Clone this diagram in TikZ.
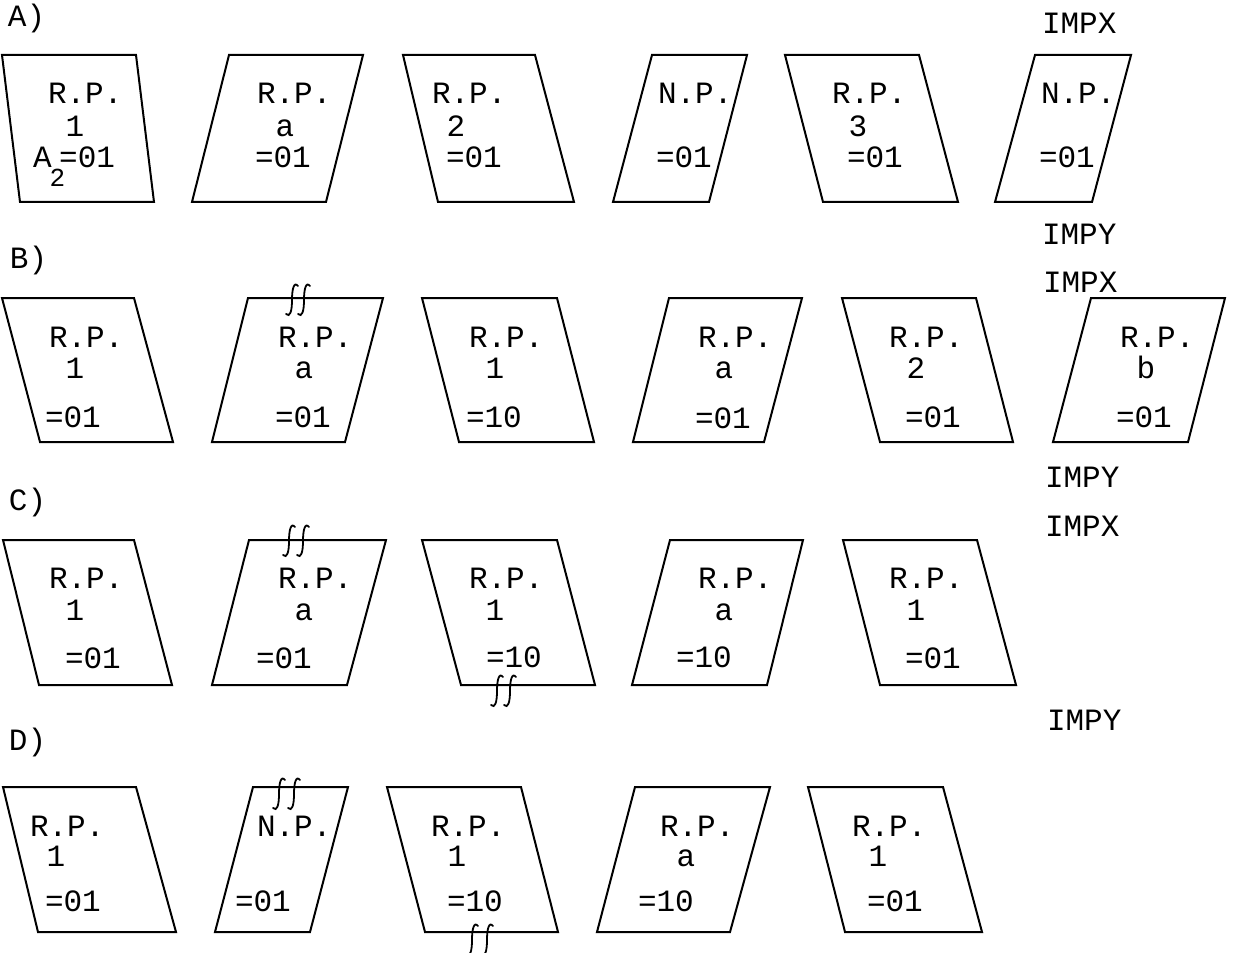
\documentclass[tikz,border=0pt]{standalone}
\usepackage{fontspec}
\setmonofont{Liberation Mono}
\usetikzlibrary{positioning}

\begin{document}
\begin{tikzpicture}[
  x=0.5pt,y=-0.5pt,
  card/.style={draw=black,line width=1pt,line join=miter},
  txt/.style={font=\ttfamily\fontsize{15.5}{18}\selectfont,anchor=base west,inner sep=0pt,outer sep=0pt},
  chr/.style={txt,anchor=base},
  squig/.style={line width=0.9pt,line cap=round},
  cut/.pic={\draw[squig] (6,-14) .. controls (2,-19) and (0,-11) .. (0,0) .. controls (0,11) and (-2,18) .. (-6,14);}
]
\useasboundingbox (0,0) rectangle (1235,952);

% cards, one row at a time: top-left/top-right/bottom-left/bottom-right
\foreach \tl/\tr/\bl/\br in {2/136/20/154,229/363/192/326,403/535/438/574,652/747/613/709,785/919/823/958,1035/1131/995/1092}
  \draw[card] (\tl,55) -- (\tr,55) -- (\br,202) -- (\bl,202) -- cycle;
\foreach \tl/\tr/\bl/\br in {2/134/40/173,248/383/212/345,422/557/459/594,669/802/633/764,842/976/880/1013,1091/1225/1053/1188}
  \draw[card] (\tl,298) -- (\tr,298) -- (\br,442) -- (\bl,442) -- cycle;
\foreach \tl/\tr/\bl/\br in {3/134/39/172,249/386/212/347,422/557/461/595,670/803/632/767,843/977/880/1016}
  \draw[card] (\tl,540) -- (\tr,540) -- (\br,685) -- (\bl,685) -- cycle;
\foreach \tl/\tr/\bl/\br in {3/136/38/176,253/348/215/310,387/521/425/558,635/770/597/730,808/943/845/982}
  \draw[card] (\tl,787) -- (\tr,787) -- (\br,932) -- (\bl,932) -- cycle;

% row labels
\node[txt] (la) at (8,27) {A)};
\node[txt] (lb) at (10,268) {B)};
\node[txt] (lc) at (9,510) {C)};
\node[txt] (ld) at (9,750) {D)};
\node[txt] (x1) at (1042,34) {IMPX};
\node[txt] (y1) at (1042,244) {IMPY};
\node[txt] (x2) at (1043,292) {IMPX};
\node[txt] (y2) at (1045,487) {IMPY};
\node[txt] (x3) at (1045,536) {IMPX};
\node[txt] (y3) at (1047,730) {IMPY};

% row A
\node[txt] (a1r) at (48,104) {R.P.};
\node[chr] (a1n) at (75,137) {1};
\node[txt] (a1v) at (33,168) {A\kern-1pt\raisebox{-9.5pt}{\fontsize{13}{13}\selectfont 2}\kern-3pt=01};
\node[txt] (a2r) at (257,104) {R.P.};
\node[chr] (a2n) at (285,137) {a};
\node[txt] (a2v) at (255,168) {=01};
\node[txt] (a3r) at (432,104) {R.P.};
\node[chr] (a3n) at (456,137) {2};
\node[txt] (a3v) at (446,168) {=01};
\node[txt] (a4r) at (658,104) {N.P.};
\node[txt] (a4v) at (656,168) {=01};
\node[txt] (a5r) at (832,104) {R.P.};
\node[chr] (a5n) at (858,137) {3};
\node[txt] (a5v) at (847,168) {=01};
\node[txt] (a6r) at (1041,104) {N.P.};
\node[txt] (a6v) at (1039,168) {=01};

% row B
\node[txt] (b1r) at (49,347) {R.P.};
\node[chr] (b1n) at (75,378) {1};
\node[txt] (b1v) at (45,427) {=01};
\node[txt] (b2r) at (278,347) {R.P.};
\node[chr] (b2n) at (304,378) {a};
\node[txt] (b2v) at (275,427) {=01};
\node[txt] (b3r) at (469,347) {R.P.};
\node[chr] (b3n) at (495,378) {1};
\node[txt] (b3v) at (466,427) {=10};
\node[txt] (b4r) at (698,347) {R.P.};
\node[chr] (b4n) at (724,378) {a};
\node[txt] (b4v) at (695,428) {=01};
\node[txt] (b5r) at (889,347) {R.P.};
\node[chr] (b5n) at (916,378) {2};
\node[txt] (b5v) at (905,427) {=01};
\node[txt] (b6r) at (1120,347) {R.P.};
\node[chr] (b6n) at (1146,378) {b};
\node[txt] (b6v) at (1116,427) {=01};

% row C
\node[txt] (c1r) at (49,588) {R.P.};
\node[chr] (c1n) at (75,620) {1};
\node[txt] (c1v) at (65,668) {=01};
\node[txt] (c2r) at (278,588) {R.P.};
\node[chr] (c2n) at (304,620) {a};
\node[txt] (c2v) at (256,668) {=01};
\node[txt] (c3r) at (469,588) {R.P.};
\node[chr] (c3n) at (495,620) {1};
\node[txt] (c3v) at (486,667) {=10};
\node[txt] (c4r) at (698,588) {R.P.};
\node[chr] (c4n) at (724,620) {a};
\node[txt] (c4v) at (676,667) {=10};
\node[txt] (c5r) at (889,588) {R.P.};
\node[chr] (c5n) at (916,620) {1};
\node[txt] (c5v) at (905,668) {=01};

% row D
\node[txt] (d1r) at (30,836) {R.P.};
\node[chr] (d1n) at (56,866) {1};
\node[txt] (d1v) at (45,911) {=01};
\node[txt] (d2r) at (257,836) {N.P.};
\node[txt] (d2v) at (235,911) {=01};
\node[txt] (d3r) at (431,836) {R.P.};
\node[chr] (d3n) at (457,866) {1};
\node[txt] (d3v) at (447,911) {=10};
\node[txt] (d4r) at (660,836) {R.P.};
\node[chr] (d4n) at (686,866) {a};
\node[txt] (d4v) at (638,911) {=10};
\node[txt] (d5r) at (852,836) {R.P.};
\node[chr] (d5n) at (878,866) {1};
\node[txt] (d5v) at (867,911) {=01};

% cut marks
\foreach \x/\y in {292/300,304/300,289/541,303/541,497/691,510/691,279/794,294/794,472/940,487/940}
  \pic at (\x,\y) {cut};
\end{tikzpicture}
\end{document}
